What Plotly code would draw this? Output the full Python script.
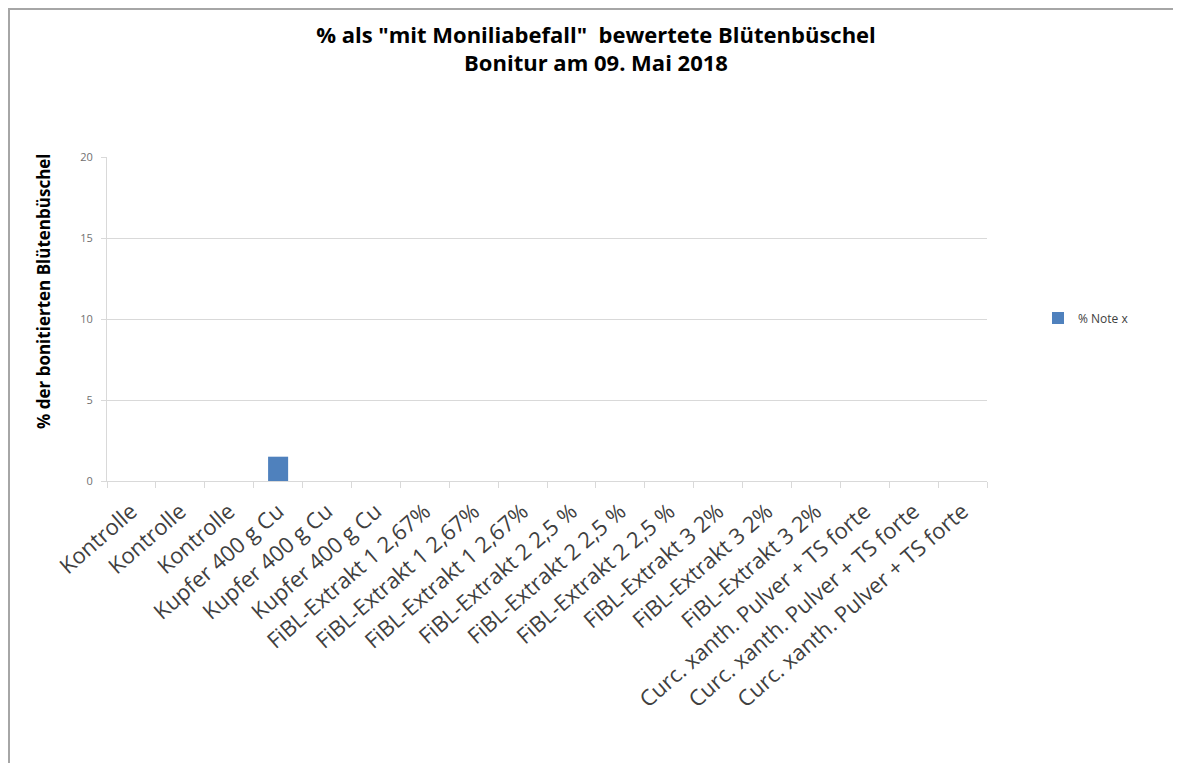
import plotly.graph_objects as go

categories = [
    "Kontrolle", "Kontrolle", "Kontrolle",
    "Kupfer 400 g Cu", "Kupfer 400 g Cu", "Kupfer 400 g Cu",
    "FiBL-Extrakt 1 2,67%", "FiBL-Extrakt 1 2,67%", "FiBL-Extrakt 1 2,67%",
    "FiBL-Extrakt 2 2,5 %", "FiBL-Extrakt 2 2,5 %", "FiBL-Extrakt 2 2,5 %",
    "FiBL-Extrakt 3 2%", "FiBL-Extrakt 3 2%", "FiBL-Extrakt 3 2%",
    "Curc. xanth. Pulver + TS forte", "Curc. xanth. Pulver + TS forte", "Curc. xanth. Pulver + TS forte",
]
values = [0, 0, 0, 1.5, 0, 0, 0, 0, 0, 0, 0, 0, 0, 0, 0, 0, 0, 0]
series_name = "% Note x"
y_ticks = [0, 5, 10, 15, 20]
title_text = '% als "mit Moniliabefall"  bewertete Blütenbüschel<br>Bonitur am 09. Mai 2018'
y_title_text = "% der bonitierten Blütenbüschel"

positions = list(range(len(categories)))

fig = go.Figure()
fig.add_trace(go.Bar(
    x=positions, y=values, name=series_name,
    marker=dict(color="#4F81BD", line=dict(width=0)),
    showlegend=True,
))

# page offset of 8px (body margin) is compensated by a smaller figure
OFF = 8
W, H = 1181 - 2 * OFF, 771 - 2 * OFF
# plot area in page pixels
PL, PR, PT, PB = 107, 987, 157, 481
L, R, T, B = PL - OFF, PR - OFF, PT - OFF, PB - OFF


def px(xp):
    return (xp - PL) / (PR - PL)


def py(yp):
    return (PB - yp) / (PB - PT)


fig.update_layout(
    width=W, height=H,
    margin=dict(l=L, r=W - R, t=T, b=H - B, pad=0),
    paper_bgcolor="white", plot_bgcolor="white",
    bargap=0.59,
    font=dict(family="Open Sans, sans-serif", color="#404040"),
    title=dict(
        text=title_text,
        x=px(596), xref="paper", xanchor="center",
        y=1 - (42.5 - OFF) / H, yref="container", yanchor="middle",
        font=dict(family="Open Sans, sans-serif", size=22, color="#000000", weight="bold"),
    ),
    legend=dict(
        x=px(1038), y=py(318), xanchor="left", yanchor="middle",
        font=dict(family="Open Sans, sans-serif", size=12, color="#404040"),
        itemwidth=30,
        bgcolor="rgba(0,0,0,0)",
    ),
    xaxis=dict(
        range=[-0.5, len(categories) - 0.5],
        tickmode="array", tickvals=positions, ticktext=categories,
        tickangle=-41, ticks="", ticklen=0,
        ticklabelstandoff=8,
        tickfont=dict(family="Open Sans, sans-serif", size=22, color="#404040"),
        showline=True, linecolor="#d9d9d9", linewidth=1,
        showgrid=False, zeroline=False,
        minor=dict(tickmode="linear", tick0=-0.5, dtick=1, ticks="outside",
                   ticklen=6, tickcolor="#d9d9d9", showgrid=False),
    ),
    yaxis=dict(
        range=[0, 20], tickmode="array", tickvals=y_ticks,
        tickfont=dict(family="Open Sans, sans-serif", size=11, color="#707070"),
        ticks="outside", ticklen=5, tickcolor="#d9d9d9",
        ticklabelstandoff=6,
        showline=True, linecolor="#d9d9d9", linewidth=1,
        showgrid=True, gridcolor="#d9d9d9", gridwidth=1,
        zeroline=False,
    ),
    annotations=[
        dict(text=y_title_text, textangle=-90,
             xref="paper", yref="paper", x=px(43), y=py(291),
             xanchor="center", yanchor="middle", showarrow=False,
             font=dict(family="Open Sans, sans-serif", size=17, color="#000000", weight="bold")),
    ],
    shapes=[
        dict(type="line", xref="paper", yref="paper",
             x0=px(9), x1=px(9), y0=py(9), y1=py(780),
             line=dict(color="#a6a6a6", width=2)),
        dict(type="line", xref="paper", yref="paper",
             x0=px(8), x1=px(1190), y0=py(9), y1=py(9),
             line=dict(color="#a6a6a6", width=2)),
    ],
)

fig.write_html("out.html")
